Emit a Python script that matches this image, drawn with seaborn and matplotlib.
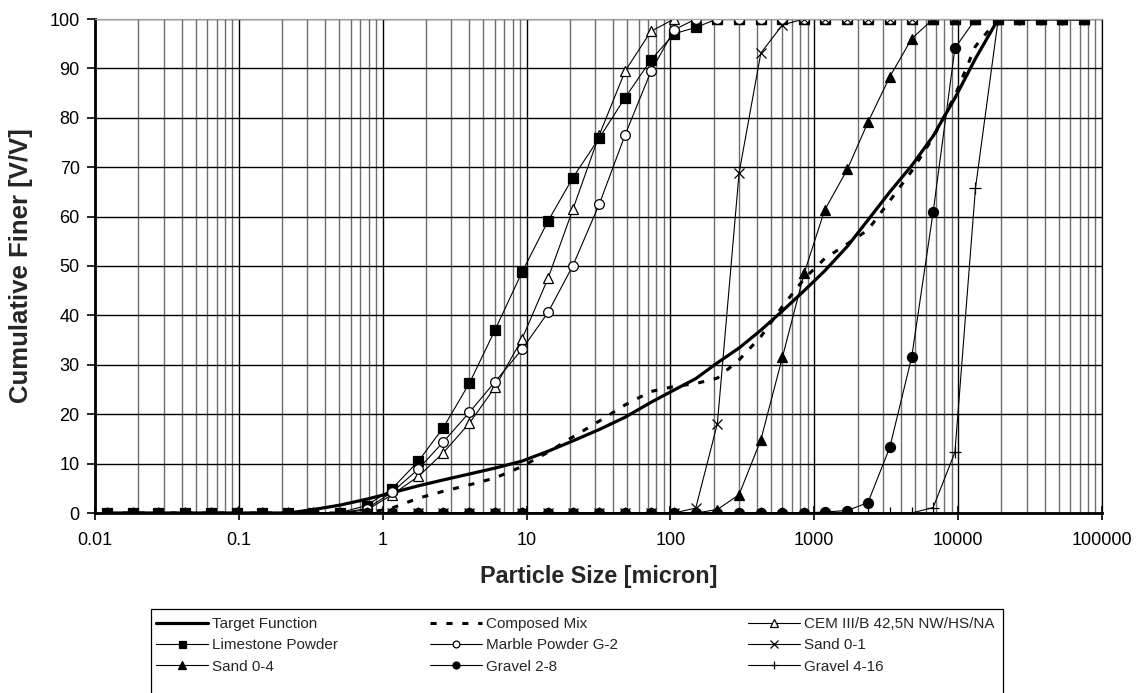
import numpy as np
import pandas as pd
import matplotlib
matplotlib.use("Agg")
import matplotlib.pyplot as plt
import matplotlib.patches as mpatches
import seaborn as sns
from matplotlib.ticker import LogLocator, NullFormatter, FixedLocator

# ---------------- data ----------------
particle_size = [0.0121, 0.0183, 0.0276, 0.0422, 0.0638, 0.0967, 0.144, 0.221, 0.330, 0.506,
                 0.775, 1.16, 1.77, 2.64, 4.01, 6.05, 9.28, 14.1, 21.0, 32.0,
                 48.5, 73.2, 106, 150, 212, 300, 425, 600, 850, 1180,
                 1700, 2360, 3350, 4750, 6700, 9500, 13200, 19000, 26500, 37500,
                 53000, 75000]

target_function = [0, 0, 0, 0, 0, 0, 0, 0, 0.7, 1.6,
                   2.8, 4.1, 5.5, 6.7, 7.9, 9.1, 10.5, 12.5, 14.6, 16.9,
                   19.4, 22.4, 24.9, 27.2, 30.4, 33.4, 37.0, 40.9, 45.0, 49.0,
                   54.0, 59.3, 65.0, 70.3, 76.3, 84.0, 92.0, 100, 100, 100,
                   100, 100]

composed_mix = [0, 0, 0, 0, 0, 0, 0, 0, 0, 0,
                0, 1.0, 3.0, 4.4, 5.7, 7.1, 9.4, 12.3, 15.4, 18.6,
                21.9, 24.6, 25.6, 26.2, 27.3, 31.0, 35.7, 41.8, 47.4, 51.5,
                54.5, 57.3, 63.2, 69.2, 76.0, 84.5, 94.5, 100, 100, 100,
                100, 100]

cem = [0, 0, 0, 0, 0, 0, 0, 0, 0, 0,
       0.6, 3.7, 7.4, 12.2, 18.2, 25.5, 35.2, 47.5, 61.5, 76.5,
       89.5, 97.5, 100, 100, 100, 100, 100, 100, 100, 100,
       100, 100, 100, 100, 100, 100, 100, 100, 100, 100,
       100, 100]

limestone = [0, 0, 0, 0, 0, 0, 0, 0, 0, 0.1,
             1.5, 4.9, 10.5, 17.3, 26.3, 37.1, 48.7, 59.1, 67.9, 75.9,
             84.1, 91.7, 97.0, 98.3, 100, 100, 100, 100, 100, 100,
             100, 100, 100, 100, 100, 100, 100, 100, 100, 100,
             100, 100]

marble = [0, 0, 0, 0, 0, 0, 0, 0, 0, 0,
          0.9, 4.2, 8.9, 14.4, 20.4, 26.6, 33.1, 40.6, 50.1, 62.5,
          76.6, 89.4, 97.8, 100, 100, 100, 100, 100, 100, 100,
          100, 100, 100, 100, 100, 100, 100, 100, 100, 100,
          100, 100]

sand_0_1 = [0, 0, 0, 0, 0, 0, 0, 0, 0, 0,
            0, 0, 0, 0, 0, 0, 0, 0, 0, 0,
            0, 0, 0, 1.0, 18.1, 68.8, 93.1, 98.8, 100, 100,
            100, 100, 100, 100, 100, 100, 100, 100, 100, 100,
            100, 100]

sand_0_4 = [0, 0, 0, 0, 0, 0, 0, 0, 0, 0,
            0, 0, 0, 0, 0, 0, 0, 0, 0, 0,
            0, 0, 0, 0, 0.7, 3.7, 14.8, 31.5, 48.5, 61.3,
            69.6, 79.1, 88.3, 96.0, 100, 100, 100, 100, 100, 100,
            100, 100]

gravel_2_8 = [0, 0, 0, 0, 0, 0, 0, 0, 0, 0,
              0, 0, 0, 0, 0, 0, 0, 0, 0, 0,
              0, 0, 0, 0, 0, 0, 0, 0, 0, 0.2,
              0.5, 2.1, 13.3, 31.5, 60.9, 94.1, 100, 100, 100, 100,
              100, 100]

gravel_4_16 = [0, 0, 0, 0, 0, 0, 0, 0, 0, 0,
               0, 0, 0, 0, 0, 0, 0, 0, 0, 0,
               0, 0, 0, 0, 0, 0, 0, 0, 0, 0,
               0, 0, 0, 0, 1.1, 12.3, 65.8, 100, 100, 100,
               100, 100]

series_names = ["Target Function", "Composed Mix", "CEM III/B 42,5N NW/HS/NA",
                "Limestone Powder", "Marble Powder G-2", "Sand 0-1",
                "Sand 0-4", "Gravel 2-8", "Gravel 4-16"]

x_ticks = [0.01, 0.1, 1, 10, 100, 1000, 10000, 100000]
x_tick_labels = ["0.01", "0.1", "1", "10", "100", "1000", "10000", "100000"]
y_ticks = [0, 10, 20, 30, 40, 50, 60, 70, 80, 90, 100]

# ---------------- plotting ----------------
sns.set_theme(style="white")
plt.rcParams['font.family'] = ['Liberation Sans', 'DejaVu Sans']

W, H = 1139, 693
fig = plt.figure(figsize=(W / 100, H / 100), dpi=100)
ax = fig.add_axes([95 / W, (H - 513) / H, 1007 / W, 494 / H])
ax.set_xscale('log')

values = [target_function, composed_mix, cem, limestone, marble,
          sand_0_1, sand_0_4, gravel_2_8, gravel_4_16]

thin = 0.8
styles = [
    dict(color='black', linewidth=2.3, linestyle='-'),
    dict(color='black', linewidth=2.2, linestyle=(0, (2, 3.2))),
    dict(color='black', linewidth=thin, marker='^', markersize=7.5,
         markerfacecolor='white', markeredgecolor='black', markeredgewidth=0.9),
    dict(color='black', linewidth=thin, marker='s', markersize=7.2,
         markerfacecolor='black', markeredgecolor='black', markeredgewidth=0.9),
    dict(color='black', linewidth=thin, marker='o', markersize=7.0,
         markerfacecolor='white', markeredgecolor='black', markeredgewidth=0.9),
    dict(color='black', linewidth=thin, marker='x', markersize=7.5,
         markerfacecolor='black', markeredgecolor='black', markeredgewidth=0.9),
    dict(color='black', linewidth=thin, marker='^', markersize=7.8,
         markerfacecolor='black', markeredgecolor='black', markeredgewidth=0.9),
    dict(color='black', linewidth=thin, marker='o', markersize=7.2,
         markerfacecolor='black', markeredgecolor='black', markeredgewidth=0.9),
    dict(color='black', linewidth=thin, marker='+', markersize=9,
         markerfacecolor='black', markeredgecolor='black', markeredgewidth=0.9),
]

handles = []
for name, vals, st in zip(series_names, values, styles):
    n_before = len(ax.get_lines())
    sns.lineplot(x=particle_size, y=vals, ax=ax, sort=False, estimator=None,
                 label=name, legend=False, **st)
    handles.append(ax.get_lines()[n_before])

ax.set_xlim(0.01, 100000)
ax.set_ylim(0, 100)
ax.xaxis.set_major_locator(FixedLocator(x_ticks))
ax.set_xticklabels(x_tick_labels)
ax.xaxis.set_minor_locator(LogLocator(base=10, subs=np.arange(2, 10), numticks=100))
ax.xaxis.set_minor_formatter(NullFormatter())
ax.set_yticks(y_ticks)

ax.set_axisbelow(True)
ax.grid(True, which='major', axis='both', color='black', linewidth=1.0)
ax.grid(True, which='minor', axis='x', color='#6e6e6e', linewidth=1.0)

ax.tick_params(axis='x', which='major', bottom=True, direction='inout', length=10,
               width=1.2, color='black', labelsize=13, pad=9, labelcolor='black')
ax.tick_params(axis='x', which='minor', bottom=False, length=0)
ax.tick_params(axis='y', which='major', left=True, direction='out', length=6,
               width=1.2, color='black', labelsize=13, pad=5, labelcolor='black')

for side, lw, col in [('left', 2.0, 'black'), ('bottom', 2.0, 'black'),
                      ('top', 0.9, '#a0a0a0'), ('right', 0.9, 'black')]:
    ax.spines[side].set_visible(True)
    ax.spines[side].set_linewidth(lw)
    ax.spines[side].set_color(col)

ax.set_xlabel("Particle Size [micron]", fontsize=16.8, fontweight='bold', va='center')
ax.xaxis.set_label_coords((599 - 95) / 1007, (513 - 577) / 494)
ax.set_ylabel("Cumulative Finer [V/V]", fontsize=18.5, fontweight='bold', va='center')
ax.yaxis.set_label_coords((21 - 95) / 1007, 0.5)

# legend: three columns placed like the reference, with one frame around them
columns = [[0, 3, 6], [1, 4, 7], [2, 5, 8]]
col_x = [156, 430, 748]
for cols, cx in zip(columns, col_x):
    lg = fig.legend([handles[i] for i in cols], [series_names[i] for i in cols],
                    loc='upper left', bbox_to_anchor=(cx / W, (H - 617) / H),
                    fontsize=11, handlelength=3.4, handletextpad=0.25,
                    labelspacing=0.48, borderpad=0.0, borderaxespad=0.0,
                    frameon=False, markerscale=0.7)
frame = mpatches.Rectangle((151 / W, -0.05), (1003 - 151) / W, (H - 609) / H + 0.05,
                           transform=fig.transFigure, fill=False,
                           edgecolor='black', linewidth=0.9, clip_on=False)
fig.add_artist(frame)

fig.savefig("out.png", dpi=100)
